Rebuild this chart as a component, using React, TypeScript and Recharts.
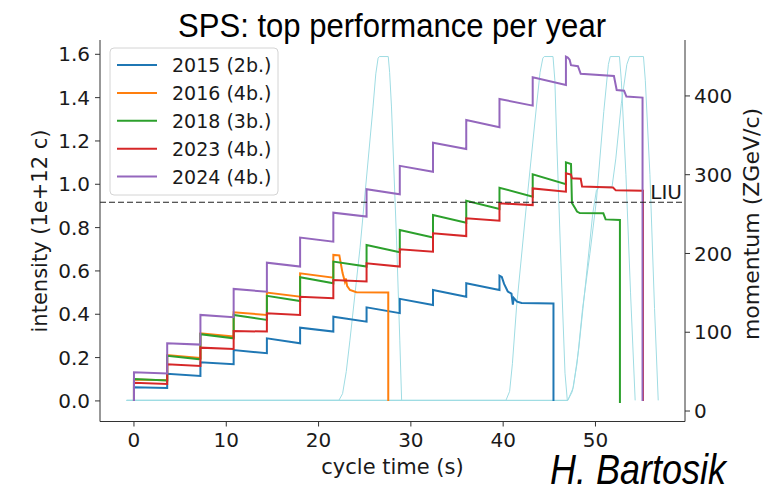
import React from 'react';
import { ComposedChart, Line, XAxis, YAxis, ReferenceLine } from 'recharts';

// ---------- data ----------
const injectionTimes = [0, 3.6, 7.2, 10.8, 14.4, 18.0, 21.6, 25.2, 28.8, 32.4, 36.0, 39.6, 43.2];

const seriesNames = ['2015 (2b.)', '2016 (4b.)', '2018 (3b.)', '2023 (4b.)', '2024 (4b.)'];
const seriesColors = ['#1f77b4', '#ff7f0e', '#2ca02c', '#d62728', '#9467bd'];

// intensity just after each injection (1e12 charges)
const start2015 = [0.063, 0.125, 0.178, 0.235, 0.289, 0.338, 0.389, 0.432, 0.471, 0.512, 0.543, 0.578];
// intensity just before the next injection
const end2015 = [0.060, 0.115, 0.169, 0.220, 0.266, 0.320, 0.366, 0.405, 0.443, 0.481, 0.512];
const tail2015: [number, number][] = [
  [39.85, 0.572], [40.1, 0.54], [40.5, 0.505], [40.9, 0.495], [41.05, 0.445], [41.15, 0.475],
  [41.5, 0.458], [42.0, 0.452], [45.45, 0.45], [45.45, 0],
];

const start2016 = [0.099, 0.212, 0.312, 0.409, 0.500, 0.589, 0.674];
const end2016 = [0.095, 0.198, 0.297, 0.397, 0.481, 0.569];
const tail2016: [number, number][] = [
  [22.25, 0.672], [22.6, 0.59], [22.85, 0.55], [22.95, 0.565], [23.1, 0.53], [23.4, 0.512],
  [24.1, 0.502], [27.55, 0.50], [27.55, 0],
];

const start2018 = [0.1015, 0.208, 0.308, 0.397, 0.485, 0.571, 0.643, 0.72, 0.789, 0.858, 0.924, 0.984, 1.046];
const end2018 = [0.094, 0.192, 0.289, 0.374, 0.461, 0.543, 0.62, 0.686, 0.754, 0.822, 0.886, 0.943];
const tail2018: [number, number][] = [
  [46.8, 1.0], [46.8, 1.101], [47.35, 1.094], [47.45, 0.914], [47.8, 0.889], [48.0, 0.874],
  [48.3, 0.867], [50.85, 0.866], [51.1, 0.838], [52.65, 0.835], [52.65, -0.01],
];

const start2023 = [0.084, 0.169, 0.246, 0.323, 0.405, 0.481, 0.558, 0.635, 0.70, 0.774, 0.843, 0.912, 0.981];
const end2023 = [0.078, 0.161, 0.240, 0.320, 0.397, 0.474, 0.551, 0.62, 0.689, 0.761, 0.832, 0.904];
const tail2023: [number, number][] = [
  [46.8, 0.966], [46.8, 1.051], [47.35, 1.045], [47.45, 1.028], [48.4, 1.026], [48.55, 0.99],
  [51.9, 0.985], [52.2, 0.972], [55.15, 0.97], [55.15, 0],
];

const start2024 = [0.132, 0.266, 0.397, 0.517, 0.638, 0.754, 0.869, 0.977, 1.085, 1.192, 1.297, 1.394, 1.494];
const end2024 = [0.127, 0.260, 0.386, 0.504, 0.62, 0.735, 0.851, 0.954, 1.058, 1.163, 1.263, 1.363];
const tail2024: [number, number][] = [
  [46.8, 1.458], [46.8, 1.589], [47.0, 1.585], [47.2, 1.575], [47.35, 1.55], [48.1, 1.545],
  [48.4, 1.51], [52.0, 1.50], [52.3, 1.435], [53.1, 1.432], [53.35, 1.405], [55.1, 1.40], [55.1, 0],
];

// momentum cycles (t [s], p [ZGeV/c])
const momentum2016: [number, number][] = [
  [-0.8, 13.5], [22.2, 13.5], [22.6, 22], [23.0, 50], [23.4, 90], [24.5, 208], [25.9, 386], [26.2, 428],
  [26.45, 448], [26.6, 450], [27.55, 450], [27.7, 430], [27.9, 386], [28.45, 217], [28.8, 90], [29.0, 13.5],
];
const momentum2015: [number, number][] = [
  [-0.8, 13.5], [40.3, 13.5], [40.7, 25], [41.0, 60], [41.45, 132], [42.5, 259], [43.6, 386], [44.0, 430],
  [44.3, 448], [44.45, 450], [45.4, 450], [45.6, 420], [45.8, 344], [46.3, 174], [46.7, 48], [46.95, 13.5],
];
const momentum2018: [number, number][] = [
  [-0.8, 13.5], [47.0, 13.5], [47.5, 25], [48.0, 60], [48.6, 130], [49.4, 200], [50.1, 267], [50.9, 380],
  [51.4, 440], [51.6, 450], [52.6, 450], [52.8, 420], [53.3, 300], [53.8, 150], [54.3, 13.5],
];
const momentum2024: [number, number][] = [
  [-0.8, 13.5], [47.0, 13.5], [47.6, 30], [48.2, 80], [49.0, 170], [49.7, 250], [50.1, 280], [50.4, 284],
  [51.8, 285], [52.2, 320], [52.8, 390], [53.4, 440], [53.7, 450], [55.2, 450], [55.4, 420], [55.9, 300],
  [56.4, 130], [56.8, 13.5],
];

const xTicks = [0, 10, 20, 30, 40, 50];
const leftTicks = [0, 0.2, 0.4, 0.6, 0.8, 1.0, 1.2, 1.4, 1.6];
const rightTicks = [0, 100, 200, 300, 400];
const liuLevel = 0.917;

// ---------- builders ----------
type Pt = { t: number; v: number };
function buildSteps(starts: number[], ends: number[], tail: [number, number][]): Pt[] {
  const pts: Pt[] = [{ t: injectionTimes[0], v: 0 }];
  starts.forEach((s, k) => {
    pts.push({ t: injectionTimes[k], v: s });
    if (k < ends.length) pts.push({ t: injectionTimes[k + 1], v: ends[k] });
  });
  tail.forEach(([t, v]) => pts.push({ t, v }));
  return pts;
}
const toPts = (arr: [number, number][]): Pt[] => arr.map(([t, v]) => ({ t, v }));

const intensitySeries = [
  buildSteps(start2015, end2015, tail2015),
  buildSteps(start2016, end2016, tail2016),
  buildSteps(start2018, end2018, tail2018),
  buildSteps(start2023, end2023, tail2023),
  buildSteps(start2024, end2024, tail2024),
];
const momentumSeries = [momentum2016, momentum2015, momentum2018, momentum2024].map(toPts);

const FONT = 'DejaVu Sans, sans-serif';
const AX = '#333';
const TXT = '#1a1a1a';

export default function App() {
  return (
    <div style={{ position: 'absolute', left: 0, top: 0, width: 768, height: 491, background: '#fff' }}>
      <ComposedChart width={768} height={491} margin={{ top: 40, right: 0, bottom: 0, left: 0 }}>
        <XAxis
          xAxisId="main"
          type="number"
          dataKey="t"
          domain={[-3.68, 59.7]}
          ticks={xTicks}
          allowDataOverflow
          height={69.5}
          tickSize={5}
          tickMargin={6}
          axisLine={{ stroke: AX }}
          tickLine={{ stroke: AX }}
          tick={{ fill: TXT, fontSize: 20, fontFamily: FONT }}
        />
        <XAxis
          xAxisId="top"
          orientation="top"
          type="number"
          domain={[0, 1]}
          height={0}
          tick={false}
          tickLine={false}
          axisLine={{ stroke: AX }}
        />
        <YAxis
          yAxisId="left"
          type="number"
          domain={[-0.095, 1.666]}
          ticks={leftTicks}
          allowDataOverflow
          width={100}
          tickSize={5}
          tickMargin={5}
          tickFormatter={(v: number) => v.toFixed(1)}
          axisLine={{ stroke: AX }}
          tickLine={{ stroke: AX }}
          tick={{ fill: TXT, fontSize: 20, fontFamily: FONT }}
        />
        <YAxis
          yAxisId="right"
          orientation="right"
          type="number"
          domain={[-13.3, 471]}
          ticks={rightTicks}
          allowDataOverflow
          width={83}
          tickSize={5}
          tickMargin={4}
          axisLine={{ stroke: AX }}
          tickLine={{ stroke: AX }}
          tick={{ fill: TXT, fontSize: 20, fontFamily: FONT }}
        />
        {momentumSeries.map((d, i) => (
          <Line
            key={'m' + i}
            data={d}
            xAxisId="main"
            yAxisId="right"
            dataKey="v"
            type="linear"
            stroke="#9fdce3"
            strokeWidth={1}
            dot={false}
            activeDot={false}
            isAnimationActive={false}
          />
        ))}
        {intensitySeries.map((d, i) => (
          <Line
            key={'s' + i}
            data={d}
            xAxisId="main"
            yAxisId="left"
            dataKey="v"
            name={seriesNames[i]}
            type="linear"
            stroke={seriesColors[i]}
            strokeWidth={2}
            dot={false}
            activeDot={false}
            isAnimationActive={false}
          />
        ))}
        <ReferenceLine
          xAxisId="main"
          yAxisId="left"
          y={liuLevel}
          stroke="#222"
          strokeWidth={1.2}
          strokeDasharray="6 3"
          label={{ value: 'LIU', position: 'insideBottomRight', offset: 3, fill: TXT, fontSize: 20, fontFamily: FONT }}
        />
      </ComposedChart>
      <svg
        width={768}
        height={491}
        style={{ position: 'absolute', left: 0, top: 0, pointerEvents: 'none' }}
      >
        <text
          x={392}
          y={37}
          textAnchor="middle"
          fontFamily="Liberation Sans, Arial, sans-serif"
          fontSize={34}
          fill="#000"
          textLength={428}
          lengthAdjust="spacingAndGlyphs"
        >
          SPS: top performance per year
        </text>
        <text
          transform="translate(47,231) rotate(-90)"
          textAnchor="middle"
          fontFamily={FONT}
          fontSize={21}
          fill={TXT}
        >
          intensity (1e+12 c)
        </text>
        <text
          transform="translate(759,224) rotate(-90)"
          textAnchor="middle"
          fontFamily={FONT}
          fontSize={22}
          fill={TXT}
        >
          momentum (ZGeV/c)
        </text>
        <text x={392.5} y={474} textAnchor="middle" fontFamily={FONT} fontSize={21} fill={TXT}>
          cycle time (s)
        </text>
        <text
          x={550}
          y={484}
          fontFamily="Liberation Sans, Arial, sans-serif"
          fontStyle="italic"
          fontSize={42}
          fill="#000"
          textLength={176}
          lengthAdjust="spacingAndGlyphs"
        >
          H. Bartosik
        </text>
        <g>
          <rect x={110} y={48} width={168} height={147} rx={4} ry={4} fill="rgba(255,255,255,0.85)" stroke="#d4d4d4" strokeWidth={1} />
          {seriesNames.map((n, i) => (
            <g key={n}>
              <line x1={117} x2={157} y1={65 + i * 27.9} y2={65 + i * 27.9} stroke={seriesColors[i]} strokeWidth={2} />
              <text x={172} y={65 + i * 27.9 + 7} fontFamily={FONT} fontSize={19} fill={TXT}>
                {n}
              </text>
            </g>
          ))}
        </g>
      </svg>
    </div>
  );
}
